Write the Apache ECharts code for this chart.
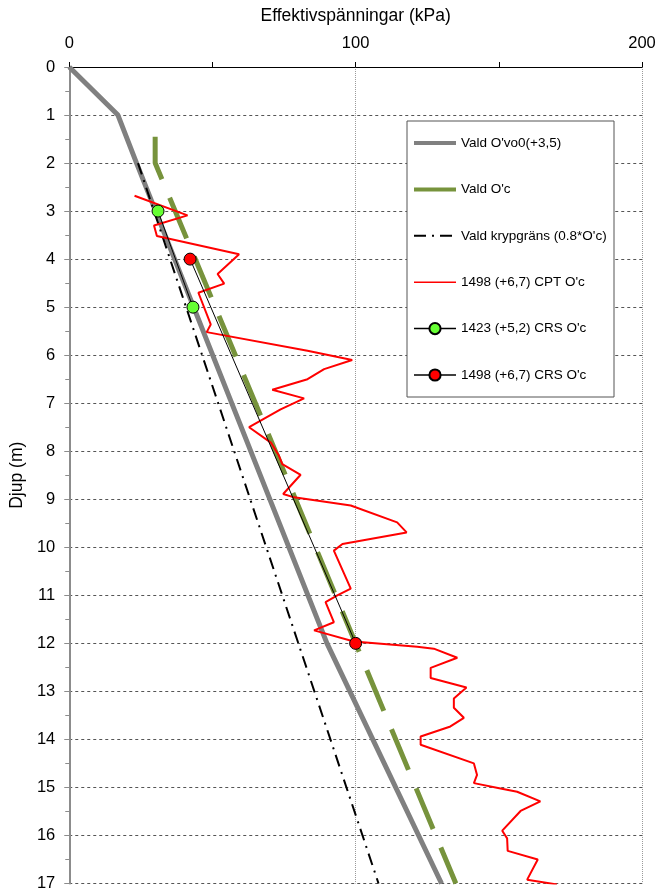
<!DOCTYPE html>
<html>
<head>
<meta charset="utf-8">
<script src="https://cdn.jsdelivr.net/npm/echarts@6/dist/echarts.min.js"></script>
<style>
html, body { margin: 0; padding: 0; background: #fff; }
#chart { width: 659px; height: 892px; }
</style>
</head>
<body>
<div id="chart"></div>
<script>
const FONT = '"Liberation Sans", Arial, sans-serif'

// Vald σ'v0
const svDepth = [0, 1, 2, 12, 17]
const svKpa = [0, 17, 23.5, 90, 130]

// Vald σ'c
const scDepth = [1.45, 2, 17]
const scKpa = [30, 30, 135]

// krypgräns 0.8*σ'c
const kgDepth = [2, 17]
const kgKpa = [24, 108]

// 1498 CPT
const cptDepth = [2.68, 3.09, 3.30, 3.52, 3.90, 4.31, 4.51, 4.70, 5.36, 5.52, 5.91, 6.10, 6.29, 6.50, 6.72, 6.90,
  7.13, 7.50, 7.82, 8.09, 8.27, 8.49, 8.89, 8.96, 9.13, 9.48, 9.69, 9.93, 10.07, 10.86, 11.0, 11.14, 11.56,
  11.73, 11.96, 12.07, 12.11, 12.30, 12.51, 12.72, 12.92, 13.15, 13.34, 13.55, 13.73, 13.94, 14.11, 14.50,
  14.74, 14.91, 15.02, 15.09, 15.29, 15.49, 15.90, 16.06, 16.32, 16.50, 16.92, 17.02]
const cptKpa = [22.8, 41.3, 29.6, 30.6, 59.3, 51.8, 54.1, 45.1, 49.4, 48.0, 83.2, 98.8, 89.0, 83.2, 70.9, 82.0,
  73.8, 62.8, 70.4, 73.2, 74.4, 80.8, 74.7, 78.5, 98.3, 114.5, 117.8, 95.4, 92.4, 98.3, 93.6, 89.5, 92.4,
  85.5, 99.4, 121.5, 127.3, 135.5, 126.2, 126.2, 138.7, 134.3, 134.3, 137.8, 133.1, 122.7, 122.7, 141.3,
  142.4, 141.3, 150.6, 156.4, 164.5, 157.6, 151.2, 152.9, 153.1, 163.6, 159.9, 170.3]

// CRS
const crs1423Depth = [3, 5]
const crs1423Kpa = [31, 43.2]
const crs1498Depth = [4, 12]
const crs1498Kpa = [42.2, 100]

const names = ["Vald O'vo0(+3,5)", "Vald O'c", "Vald krypgräns (0.8*O'c)",
  '1498 (+6,7) CPT O\'c', '1423 (+5,2) CRS O\'c', '1498 (+6,7) CRS O\'c']

const pairs = (kpa, depth) => kpa.map((v, i) => [v, depth[i]])

const chart = echarts.init(document.getElementById('chart'))

chart.setOption({
  animation: false,
  textStyle: { fontFamily: FONT },
  grid: { left: 68, right: 17, top: 67, bottom: 7 },
  xAxis: {
    type: 'value', position: 'top', min: 0, max: 200, interval: 100,
    name: 'Effektivspänningar (kPa)', nameLocation: 'middle', nameGap: 42,
    nameTextStyle: { fontSize: 17.5, color: '#000', fontFamily: FONT },
    axisLine: { onZero: false, lineStyle: { color: '#000', width: 1 } },
    axisTick: { show: true, length: 5, lineStyle: { color: '#000' } },
    minorTick: { show: true, splitNumber: 2, length: 5, lineStyle: { color: '#000' } },
    axisLabel: { fontSize: 16.5, color: '#000', margin: 15, fontFamily: FONT },
    splitLine: { show: true, lineStyle: { color: '#9a9a9a', type: 'dotted', width: 1 } },
  },
  yAxis: {
    type: 'value', inverse: true, min: 0, max: 17, interval: 1,
    name: 'Djup (m)', nameLocation: 'middle', nameGap: 41, nameRotate: 90,
    nameTextStyle: { fontSize: 17.5, color: '#000', fontFamily: FONT },
    axisLine: { show: true, onZero: false, lineStyle: { color: '#8c8c8c', width: 2 } },
    axisTick: { show: true, length: 5, lineStyle: { color: '#8c8c8c' } },
    minorTick: { show: true, splitNumber: 2, length: 4, lineStyle: { color: '#8c8c8c' } },
    axisLabel: { fontSize: 16.5, color: '#000', margin: 14, fontFamily: FONT },
    splitLine: { show: true, lineStyle: { color: '#555', type: [3, 3], width: 1 } },
  },
  graphic: [{
    type: 'rect', z: 3,
    shape: { x: 407, y: 121, width: 207, height: 276 },
    style: { fill: '#fff', stroke: '#555', lineWidth: 1 },
  }],
  legend: {
    orient: 'vertical', left: 412, top: 136, padding: 0, z: 5,
    itemWidth: 42, itemHeight: 14, itemGap: 32.4,
    textStyle: { fontSize: 13.5, color: '#000', fontFamily: FONT },
    data: [
      { name: names[0], itemStyle: { opacity: 0 }, lineStyle: { width: 4 } },
      { name: names[1], itemStyle: { opacity: 0 }, lineStyle: { width: 4 } },
      { name: names[2], itemStyle: { opacity: 0 }, lineStyle: { width: 2 } },
      { name: names[3], itemStyle: { opacity: 0 }, lineStyle: { width: 1.5 } },
      { name: names[4], lineStyle: { width: 1.5 } },
      { name: names[5], lineStyle: { width: 1.5 } },
    ],
  },
  series: [
    {
      name: names[0], type: 'line', symbol: 'none', z: 2,
      lineStyle: { color: '#808080', width: 5 }, itemStyle: { color: '#808080' },
      data: pairs(svKpa, svDepth),
    },
    {
      name: names[1], type: 'line', symbol: 'none', z: 2,
      lineStyle: { color: '#77933c', width: 5, type: [44, 20], cap: 'butt' }, itemStyle: { color: '#77933c' },
      data: pairs(scKpa, scDepth),
    },
    {
      name: names[2], type: 'line', symbol: 'none', z: 2,
      lineStyle: { color: '#000', width: 2, type: [12, 6, 2, 6] }, itemStyle: { color: '#000' },
      data: pairs(kgKpa, kgDepth),
    },
    {
      name: names[3], type: 'line', symbol: 'none', z: 3,
      lineStyle: { color: '#ff0000', width: 2 }, itemStyle: { color: '#ff0000' },
      data: pairs(cptKpa, cptDepth),
    },
    {
      name: names[4], type: 'line', symbol: 'circle', symbolSize: 12, z: 4,
      lineStyle: { color: '#000', width: 1 },
      itemStyle: { color: '#66ff33', borderColor: '#000', borderWidth: 1 },
      data: pairs(crs1423Kpa, crs1423Depth),
    },
    {
      name: names[5], type: 'line', symbol: 'circle', symbolSize: 12, z: 4,
      lineStyle: { color: '#000', width: 1 },
      itemStyle: { color: '#ff0000', borderColor: '#000', borderWidth: 1 },
      data: pairs(crs1498Kpa, crs1498Depth),
    },
  ],
})
</script>
</body>
</html>
